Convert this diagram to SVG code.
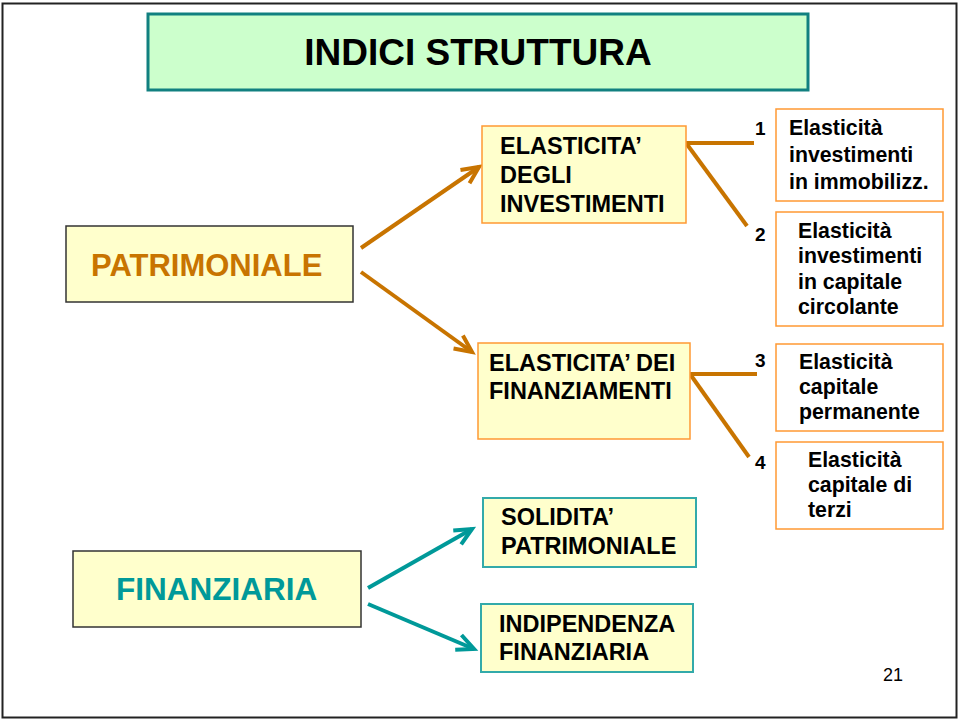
<svg xmlns="http://www.w3.org/2000/svg" width="959" height="720" viewBox="0 0 959 720">
<defs>
<style>
text{font-family:"Liberation Sans",Arial,sans-serif;font-weight:bold;fill:#000}
.ob{fill:#ffffcc;stroke:#ff9933;stroke-width:1.5}
.wb{fill:#ffffff;stroke:#ff9933;stroke-width:1.5}
.tb{fill:#ffffcc;stroke:#33aaaa;stroke-width:2}
.gb{fill:#ffffcc;stroke:#333333;stroke-width:1.5}
.n{font-size:23.5px}
.s{font-size:21.3px}
.num{font-size:19px}
.oc{stroke:#c87400;stroke-width:4;fill:none}
.tc{stroke:#009999;stroke-width:4;fill:none}
</style>
<marker id="ao" markerUnits="userSpaceOnUse" orient="auto" refX="0" refY="0" markerWidth="30" markerHeight="30" overflow="visible">
<path d="M-17,-8 L0,0 L-17,8" fill="none" stroke="#c87400" stroke-width="4"/>
</marker>
<marker id="at" markerUnits="userSpaceOnUse" orient="auto" refX="0" refY="0" markerWidth="30" markerHeight="30" overflow="visible">
<path d="M-17,-8 L0,0 L-17,8" fill="none" stroke="#009999" stroke-width="4"/>
</marker>
</defs>
<rect x="0" y="0" width="959" height="720" fill="#ffffff"/>
<rect x="2.5" y="3.5" width="954" height="714" fill="none" stroke="#222" stroke-width="2"/>

<g id="title">
<rect x="148" y="14" width="660" height="76" fill="#ccffcc" stroke="#118080" stroke-width="3"/>
<text x="478" y="65" text-anchor="middle" style="font-size:37px">INDICI STRUTTURA</text>
</g>

<g id="connectors">
<line class="oc" x1="361" y1="248" x2="479" y2="167" marker-end="url(#ao)"/>
<line class="oc" x1="361" y1="272" x2="472" y2="352" marker-end="url(#ao)"/>
<line class="oc" x1="686" y1="143" x2="754" y2="143"/>
<line class="oc" x1="686" y1="143" x2="747" y2="226"/>
<line class="oc" x1="690" y1="374" x2="757" y2="374"/>
<line class="oc" x1="690" y1="374" x2="749" y2="457"/>
<line class="tc" x1="368" y1="588" x2="472" y2="529" marker-end="url(#at)"/>
<line class="tc" x1="368" y1="604" x2="474" y2="649" marker-end="url(#at)"/>
</g>

<g id="patrimoniale">
<rect class="gb" x="66" y="226" width="287" height="76"/>
<text x="91" y="276" style="font-size:31px;fill:#c87400">PATRIMONIALE</text>
</g>

<g id="finanziaria">
<rect class="gb" x="73" y="551" width="288" height="76"/>
<text x="116" y="600" style="font-size:31.5px;fill:#009999">FINANZIARIA</text>
</g>

<g id="el-investimenti">
<rect class="ob" x="482" y="126" width="204" height="97"/>
<text class="n" x="500" y="154">ELASTICITA’</text>
<text class="n" x="500" y="183">DEGLI</text>
<text class="n" x="500" y="212">INVESTIMENTI</text>
</g>

<g id="el-finanziamenti">
<rect class="ob" x="478" y="343" width="212" height="96"/>
<text class="n" x="489" y="371">ELASTICITA’ DEI</text>
<text class="n" x="489" y="399">FINANZIAMENTI</text>
</g>

<g id="solidita">
<rect class="tb" x="483" y="498" width="213" height="69"/>
<text class="n" x="501" y="525">SOLIDITA’</text>
<text class="n" x="501" y="554">PATRIMONIALE</text>
</g>

<g id="indipendenza">
<rect class="tb" x="481" y="604" width="212" height="68"/>
<text class="n" x="499" y="632">INDIPENDENZA</text>
<text class="n" x="499" y="660">FINANZIARIA</text>
</g>

<g id="box1">
<text class="num" x="755" y="135">1</text>
<rect class="wb" x="776" y="109" width="167" height="92"/>
<text class="s" x="789" y="135">Elasticità</text>
<text class="s" x="789" y="162">investimenti</text>
<text class="s" x="789" y="189">in immobilizz.</text>
</g>

<g id="box2">
<text class="num" x="755" y="241">2</text>
<rect class="wb" x="776" y="212" width="167" height="114"/>
<text class="s" x="798" y="238">Elasticità</text>
<text class="s" x="798" y="263">investimenti</text>
<text class="s" x="798" y="289">in capitale</text>
<text class="s" x="798" y="314">circolante</text>
</g>

<g id="box3">
<text class="num" x="755" y="367">3</text>
<rect class="wb" x="776" y="344" width="167" height="87"/>
<text class="s" x="799" y="369">Elasticità</text>
<text class="s" x="799" y="394">capitale</text>
<text class="s" x="799" y="419">permanente</text>
</g>

<g id="box4">
<text class="num" x="755" y="469">4</text>
<rect class="wb" x="776" y="442" width="167" height="87"/>
<text class="s" x="808" y="467">Elasticità</text>
<text class="s" x="808" y="492">capitale di</text>
<text class="s" x="808" y="517">terzi</text>
</g>

<text x="883" y="681" style="font-size:18px;font-weight:normal">21</text>
</svg>
